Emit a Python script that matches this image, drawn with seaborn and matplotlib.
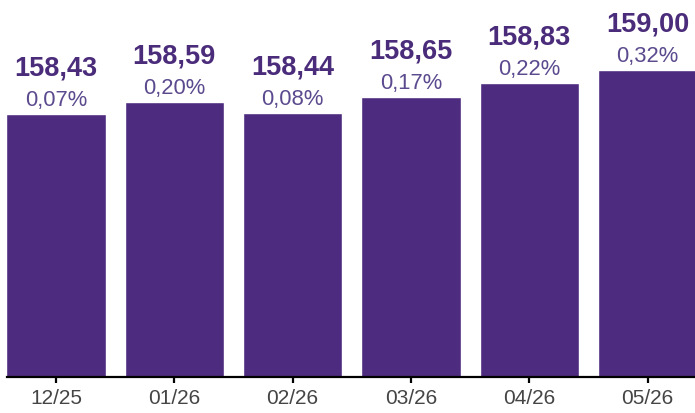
import matplotlib
matplotlib.use("Agg")
import matplotlib.pyplot as plt
import pandas as pd
import seaborn as sns

months = ["12/25", "01/26", "02/26", "03/26", "04/26", "05/26"]
values = [158.43, 158.59, 158.44, 158.65, 158.83, 159.00]
value_labels = ["158,43", "158,59", "158,44", "158,65", "158,83", "159,00"]
pct_labels = ["0,07%", "0,20%", "0,08%", "0,17%", "0,22%", "0,32%"]

BAR = "#4D2B7E"
VALUE_COLOR = "#4A2C7A"
PCT_COLOR = "#5B4A8E"

sns.set_style("white")
plt.rcParams["font.family"] = ["Liberation Sans", "DejaVu Sans"]

df = pd.DataFrame({"Month": months, "Value": values})

fig = plt.figure(figsize=(6.95, 4.14), dpi=100)
ax = fig.add_axes([7 / 695, 36 / 414, 688 / 695, 378 / 414])
sns.barplot(data=df, x="Month", y="Value", color=BAR, width=0.84,
            saturation=1, ax=ax)

ax.set_ylim(155, 159.93)
ax.set_xlim(-0.414, 5.40)
ax.set_xlabel("")
ax.set_ylabel("")
ax.set_yticks([])
for side in ["top", "right", "left"]:
    ax.spines[side].set_visible(False)
ax.spines["bottom"].set_color("black")
ax.spines["bottom"].set_linewidth(1.6)
ax.tick_params(axis="x", bottom=True, length=4.3, width=1.6, color="black",
               direction="out", pad=3.5, labelsize=15, labelcolor="#454545")

for i, (v, vl, pl) in enumerate(zip(values, value_labels, pct_labels)):
    ax.annotate(vl, (i, v), xytext=(0, 33.5), textcoords="offset points",
                ha="center", va="center", fontsize=19.5, fontweight="bold",
                color=VALUE_COLOR)
    ax.annotate(pl, (i, v), xytext=(0, 10.5), textcoords="offset points",
                ha="center", va="center", fontsize=15.8, color=PCT_COLOR)

fig.savefig("out.png", dpi=100)
